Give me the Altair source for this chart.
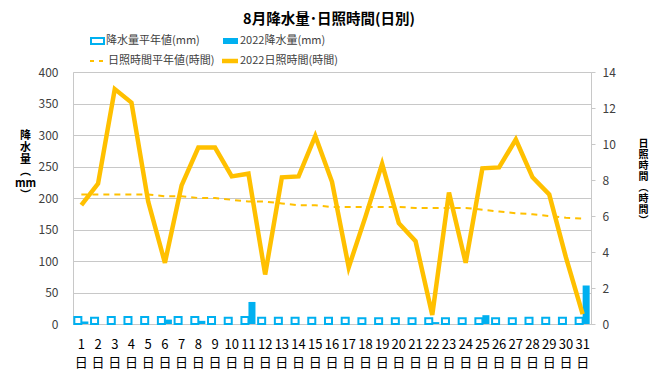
import altair as alt
import pandas as pd

FONT = "Noto Sans CJK JP"
CYAN = "#00B0F0"
GOLD = "#FFC000"
GRID = "#C8C8C8"
LABEL = "#404040"

days = list(range(1, 32))
precip_normal = [11, 10, 11, 11, 11, 11, 11, 11, 11, 10, 11, 10, 10, 10, 10, 10,
                 10, 9, 9, 9, 9, 9, 9, 9, 9, 9, 9, 10, 10, 10, 10]
precip_2022 = [4, 0, 0, 0, 0, 7, 0, 5, 0, 0, 35, 0, 0, 0, 0, 0,
               0, 0, 0, 0, 0, 3, 0, 0, 14, 0, 0, 0, 0, 0, 61]
sun_normal = [7.2, 7.2, 7.2, 7.2, 7.2, 7.1, 7.1, 7.0, 7.0, 6.9, 6.8, 6.8, 6.7, 6.6, 6.6, 6.5,
              6.5, 6.5, 6.5, 6.5, 6.45, 6.45, 6.45, 6.45, 6.35, 6.25, 6.15, 6.1, 6.0, 5.9, 5.85]
sun_2022 = [6.6, 7.8, 13.05, 12.3, 6.8, 3.4, 7.7, 9.8, 9.8, 8.2, 8.35, 2.75, 8.15, 8.2, 10.45, 7.9,
            3.15, 5.95, 8.9, 5.6, 4.6, 0.5, 7.3, 3.4, 8.65, 8.7, 10.25, 8.15, 7.2, 3.7, 0.55]

series_rain = ["降水量平年値(mm)", "2022降水量(mm)"]
series_sun = ["日照時間平年値(時間)", "2022日照時間(時間)"]
title_text = "8月降水量･日照時間(日別)"

rain_df = pd.DataFrame({
    "day": days * 2,
    "type": [series_rain[0]] * 31 + [series_rain[1]] * 31,
    "mm": precip_normal + precip_2022,
})
sun_df = pd.DataFrame({"day": days, "normal": sun_normal, "y2022": sun_2022})

x_enc = alt.X(
    "day:O",
    title=None,
    scale=alt.Scale(paddingInner=0.16, paddingOuter=0.08),
    axis=alt.Axis(labelAngle=0, labelExpr="[datum.label, '日']", ticks=False,
                  domainColor=GRID, labelFontSize=13, labelLineHeight=18,
                  labelPadding=14, labelColor="#000000", labelFont=FONT),
)

bars = alt.Chart(rain_df).mark_bar(stroke=CYAN).encode(
    x=x_enc,
    xOffset=alt.XOffset("type:N", sort=series_rain, scale=alt.Scale(paddingInner=0)),
    y=alt.Y("mm:Q", scale=alt.Scale(domain=[0, 400]),
            axis=alt.Axis(values=list(range(0, 401, 50)), grid=True, gridColor=GRID,
                          ticks=False, domainColor=GRID, labelPadding=15,
                          labelFontSize=12, labelColor=LABEL, labelFont=FONT,
                          title=["降", "水", "量", "︵", "mm", "︶"],
                          titleAngle=0, titleX=-48, titleY=57, titleBaseline="top",
                          titleAlign="center", titleFontSize=11, titleLineHeight=12,
                          titleFont=FONT, titleColor="#000000")),
    fill=alt.Fill("type:N", scale=alt.Scale(domain=series_rain, range=["#FFFFFF", CYAN]),
                  legend=None),
    strokeWidth=alt.StrokeWidth("type:N", scale=alt.Scale(domain=series_rain, range=[2, 0]),
                                legend=None),
)

right_axis = alt.Axis(orient="right", values=list(range(0, 15, 2)), grid=False,
                      ticks=True, tickSize=4, tickColor=GRID, domainColor=GRID,
                      labelPadding=7, labelFontSize=12, labelColor=LABEL, labelFont=FONT,
                      title=["日", "照", "時", "間", "︵", "時", "間", "︶"],
                      titleAngle=0, titleX=52, titleY=66, titleBaseline="top",
                      titleAlign="center", titleFontSize=10, titleLineHeight=11,
                      titleFont=FONT, titleColor="#000000")

sun_scale = alt.Scale(domain=[0, 14])

line_norm = alt.Chart(sun_df).mark_line(color=GOLD, strokeWidth=2, strokeDash=[6, 5]).encode(
    x=x_enc,
    y=alt.Y("normal:Q", scale=sun_scale, axis=right_axis),
)
line_2022 = alt.Chart(sun_df).mark_line(color=GOLD, strokeWidth=4.5).encode(
    x=x_enc,
    y=alt.Y("y2022:Q", scale=sun_scale, axis=right_axis),
)
lines = alt.layer(line_norm, line_2022)

one = pd.DataFrame({"a": [0]})
leg_txt = dict(font=FONT, fontSize=11, color=LABEL, align="left", baseline="middle")
legend = [
    alt.Chart(one).mark_text(font=FONT, fontSize=14.5, fontWeight="bold", color="#000000",
                             align="center", baseline="middle").encode(
        x=alt.value(256), y=alt.value(-52), text=alt.value(title_text)),
    alt.Chart(one).mark_rect(fill="#FFFFFF", stroke=CYAN, strokeWidth=2).encode(
        x=alt.value(18), x2=alt.value(31), y=alt.value(-34), y2=alt.value(-28)),
    alt.Chart(one).mark_text(**leg_txt).encode(
        x=alt.value(33), y=alt.value(-31), text=alt.value(series_rain[0])),
    alt.Chart(one).mark_rect(fill=CYAN).encode(
        x=alt.value(150), x2=alt.value(165), y=alt.value(-34), y2=alt.value(-28)),
    alt.Chart(one).mark_text(**leg_txt).encode(
        x=alt.value(167), y=alt.value(-31), text=alt.value(series_rain[1])),
    alt.Chart(one).mark_rule(color=GOLD, strokeWidth=2, strokeDash=[4, 5]).encode(
        x=alt.value(17), x2=alt.value(31), y=alt.value(-11)),
    alt.Chart(one).mark_text(**leg_txt).encode(
        x=alt.value(35), y=alt.value(-11), text=alt.value(series_sun[0])),
    alt.Chart(one).mark_rule(color=GOLD, strokeWidth=4.5).encode(
        x=alt.value(149), x2=alt.value(165), y=alt.value(-11)),
    alt.Chart(one).mark_text(**leg_txt).encode(
        x=alt.value(167), y=alt.value(-11), text=alt.value(series_sun[1])),
]

chart = alt.layer(bars, lines, *legend).resolve_scale(y="independent").properties(
    width=518,
    height=252,
    padding={"left": 65, "top": 64, "right": 61, "bottom": 48},
    autosize=alt.AutoSizeParams(type="none"),
).configure_view(stroke=None).configure(background="#FFFFFF")

chart.save("out.html", embed_options={"renderer": "svg", "actions": False})
